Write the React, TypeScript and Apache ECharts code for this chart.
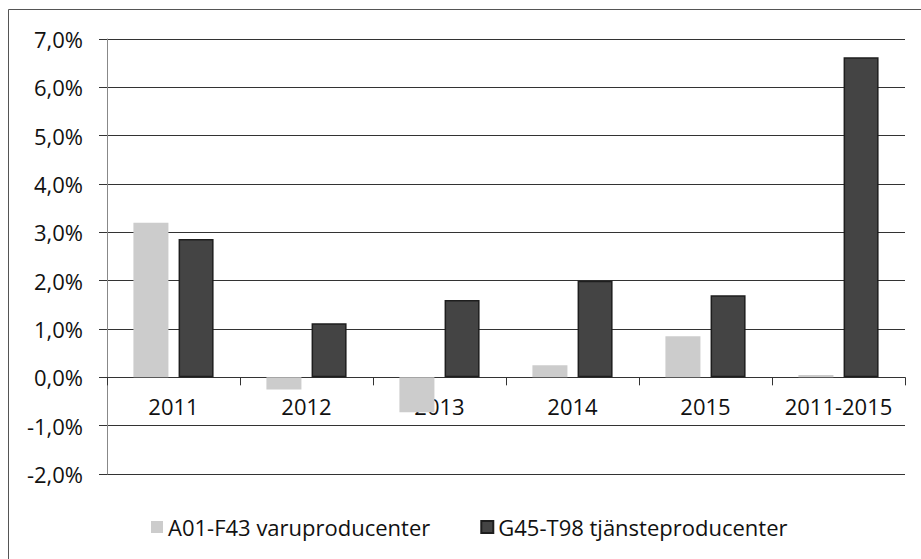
import React, { useEffect, useRef } from "react";
import * as echarts from "echarts";

const categories = ["2011", "2012", "2013", "2014", "2015", "2011-2015"];
const varuValues = [3.2, -0.25, -0.72, 0.25, 0.85, 0.05];
const tjansteValues = [2.86, 1.12, 1.6, 2.0, 1.7, 6.62];
const seriesNames = ["A01-F43 varuproducenter", "G45-T98 tjänsteproducenter"];
const yMin = -2;
const yMax = 7;

const FONT = "'Open Sans', 'Noto Sans', sans-serif";

const GRID_TOP = 39;
const GRID_BOTTOM = 85;
const HEIGHT = 559;

export default function App() {
  const ref = useRef<HTMLDivElement>(null);
  useEffect(() => {
    document.body.style.margin = "0";
    const chart = echarts.init(ref.current!, null, { renderer: "svg" });
    const gridH = HEIGHT - GRID_TOP - GRID_BOTTOM;
    const zeroOffset = -((0 - yMin) / (yMax - yMin)) * gridH;
    chart.setOption({
      animation: false,
      backgroundColor: "#ffffff",
      graphic: [
        {
          type: "rect",
          shape: { x: 8.5, y: 9.5, width: 930, height: 560 },
          style: { fill: "none", stroke: "#555", lineWidth: 1 },
          silent: true,
        },
      ],
      grid: { left: 107, right: 16, top: GRID_TOP, bottom: GRID_BOTTOM },
      legend: {
        left: 146,
        top: 511,
        itemWidth: 12,
        itemHeight: 12,
        itemGap: 50,
        icon: "rect",
        textStyle: { fontFamily: FONT, fontSize: 22, color: "#111" },
        data: seriesNames,
      },
      xAxis: {
        type: "category",
        position: "bottom",
        offset: zeroOffset,
        data: categories,
        axisLine: { onZero: false, lineStyle: { color: "#333", width: 1 } },
        axisTick: { show: true, length: 8, inside: false, alignWithLabel: false, lineStyle: { color: "#333" } },
        axisLabel: { margin: 18, fontFamily: FONT, fontSize: 22, color: "#111", interval: 0 },
        splitLine: { show: false },
      },
      yAxis: {
        type: "value",
        min: yMin,
        max: yMax,
        interval: 1,
        axisLine: { show: true, lineStyle: { color: "#888", width: 1 } },
        axisTick: { show: true, length: 8, lineStyle: { color: "#333" } },
        axisLabel: {
          margin: 24,
          fontFamily: FONT,
          fontSize: 22,
          color: "#111",
          formatter: (v: number) => v.toFixed(1).replace(".", ",") + "%",
        },
        splitLine: { show: true, lineStyle: { color: "#333", width: 1 } },
      },
      series: [
        {
          name: seriesNames[0],
          type: "bar",
          data: varuValues,
          barWidth: 35,
          barGap: "29%",
          itemStyle: { color: "#cccccc" },
        },
        {
          name: seriesNames[1],
          type: "bar",
          data: tjansteValues,
          barWidth: 35,
          itemStyle: { color: "#444444", borderColor: "#1e1e1e", borderWidth: 1.5 },
        },
      ],
    });
    return () => chart.dispose();
  }, []);
  return <div ref={ref} style={{ width: 921, height: 559 }} />;
}
